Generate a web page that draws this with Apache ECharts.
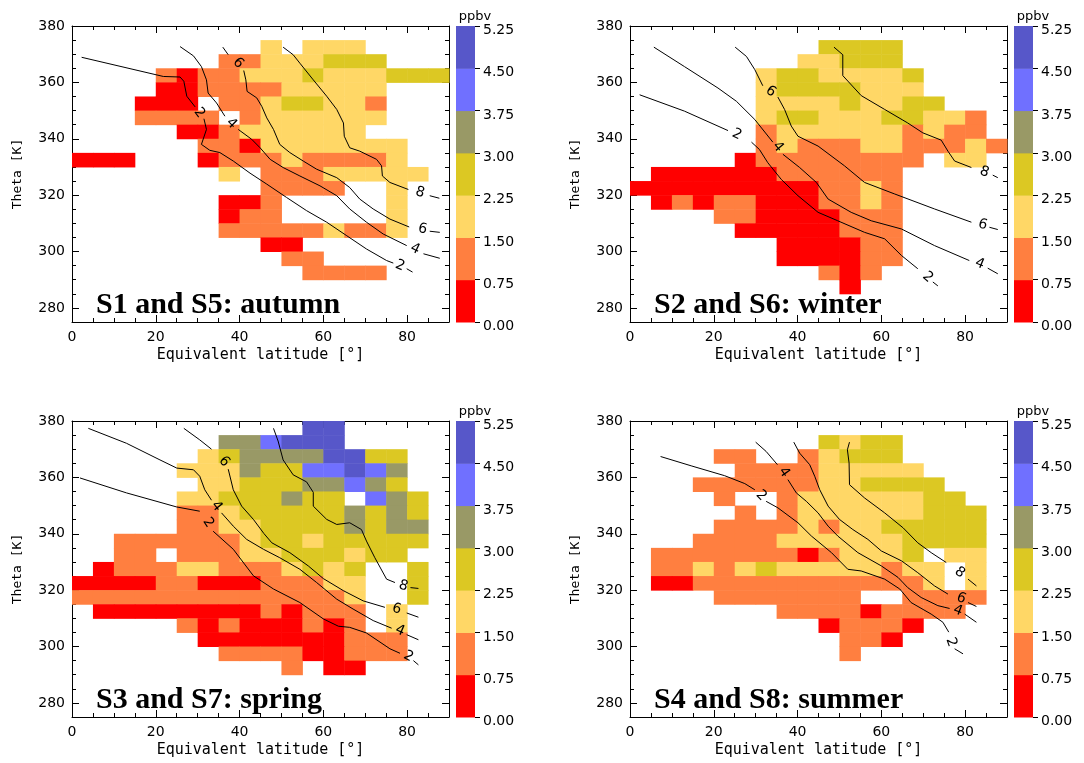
<!DOCTYPE html>
<html>
<head>
<meta charset="utf-8">
<title>Ozone vs equivalent latitude and theta</title>
<script src="https://cdn.jsdelivr.net/npm/echarts@6/dist/echarts.min.js"></script>
<style>
  html, body { margin: 0; padding: 0; background: #fff; }
  #chart { width: 1084px; height: 763px; }
</style>
</head>
<body>
<div id="chart"></div>
<script>
// bins are 5 deg x 5 K, given by their lower-left corner
const latBins = [0, 5, 10, 15, 20, 25, 30, 35, 40, 45, 50, 55, 60, 65, 70, 75, 80, 85];
const thetaBins = [375, 370, 365, 360, 355, 350, 345, 340, 335, 330, 325, 320, 315, 310, 305, 300, 295, 290, 285, 280, 275];
const binSize = 5;

const latTicks = [0, 5, 10, 15, 20, 25, 30, 35, 40, 45, 50, 55, 60, 65, 70, 75, 80, 85, 90];
const latLabels = [0, 20, 40, 60, 80];
const thetaTicks = [275, 280, 285, 290, 295, 300, 305, 310, 315, 320, 325, 330, 335, 340, 345, 350, 355, 360, 365, 370, 375, 380];
const thetaLabels = [280, 300, 320, 340, 360, 380];

const ppbvEdges = [0, 0.75, 1.5, 2.25, 3.0, 3.75, 4.5, 5.25];
const ppbvColors = ['#ff0000', '#ff7f40', '#ffd766', '#dcc823', '#999966', '#7070ff', '#5757c9'];

// ppbv class (index into ppbvEdges) per cell, '.' = empty; rows from 375 K down to 275 K
const autumnCells = [
  '..................',
  '.........2.222....',
  '.......11222333...',
  '....10112223222333',
  '....00111122222...',
  '...000.11233221...',
  '...1111.1222222...',
  '.....001222222....',
  '......1102222222..',
  '000...0111211112..',
  '.......2.11122222.',
  '.........1111..2..',
  '.......001.....2..',
  '.......011.....2..',
  '.......111112112..',
  '.........00.......',
  '..........11......',
  '...........1111...',
  '..................',
  '..................',
  '..................'
];
const winterCells = [
  '..................',
  '.........3333.....',
  '........22333.....',
  '......23322223....',
  '......23333222....',
  '......222232233...',
  '......23322233221.',
  '......12222221211.',
  '......121112211121',
  '.....011111111.22.',
  '.000000111111.....',
  '0000000001121.....',
  '.010110001121.....',
  '....110000111.....',
  '.....00000111.....',
  '.......000011.....',
  '.......000011.....',
  '.........101......',
  '..........0.......',
  '..................',
  '..................'
];
const springCells = [
  '...........66.....',
  '.......445666.....',
  '......2344446633..',
  '.....22243355654..',
  '......2233344543..',
  '.....22333433.543.',
  '.....112333334343.',
  '.....112233334344.',
  '..111111233233333.',
  '..11.11122333233..',
  '.0111221112323..3.',
  '00001100011122..3.',
  '11111111111112..3.',
  '.0000000010111.2..',
  '.....101000101.2..',
  '......0000000111..',
  '.......111100111..',
  '..........1.00....',
  '..................',
  '..................',
  '..................'
];
const summerCells = [
  '..................',
  '.........3233.....',
  '....11..12333.....',
  '.....111122222....',
  '...111111223333...',
  '....1..122222233..',
  '.....1.1222222333.',
  '....1111212233333.',
  '...11112222223333.',
  '.1111111012223.22.',
  '.11212322222122.2.',
  '.00111111111112.2.',
  '....1111111..1111.',
  '.......111101111..',
  '.........01110....',
  '..........110.....',
  '..........1.......',
  '..................',
  '..................',
  '..................',
  '..................'
];

// contour lines [lat, theta]; "at" = indices where a label sits in a gap of the line
const autumnContours = [
  { level: 2, at: [6, 22], pts: [[2.3,368.9],[21.8,362.1],[25.8,361.9],[26.7,360.4],[27.4,355.1],[29.4,351.3],[30.4,349.2],[31.5,347.1],[32.1,343.3],[30.9,338.0],[32.9,335.9],[35.3,335.1],[38.5,332.1],[42.5,327.8],[46.5,323.9],[51.2,319.2],[56.0,314.5],[60.8,310.4],[65.6,305.6],[70.3,300.9],[75.1,296.8],[76.7,295.9],[78.3,295.0],[79.9,293.9],[81.3,292.7]] },
  { level: 4, at: [7, 20], pts: [[25.8,372.7],[29.0,369.4],[30.9,365.6],[32.1,360.9],[32.5,356.2],[34.5,352.7],[36.5,348.0],[38.1,345.4],[39.7,343.3],[42.9,339.8],[44.9,336.8],[47.3,332.7],[50.4,329.8],[54.4,326.8],[59.2,323.3],[63.2,319.8],[66.3,315.1],[70.3,310.4],[74.3,306.2],[79.9,302.1],[81.9,300.9],[83.9,299.2],[87.8,297.6]] },
  { level: 6, at: [2, 20], pts: [[36.0,372.5],[37.3,369.8],[39.7,366.8],[41.0,364.2],[41.5,360.9],[41.8,356.8],[44.1,354.5],[45.3,351.5],[46.5,347.4],[48.1,343.3],[49.6,338.0],[52.0,335.1],[55.2,332.1],[58.4,329.2],[63.2,326.2],[66.3,322.7],[68.7,318.6],[71.9,315.1],[75.9,311.5],[80.5,308.7],[83.7,308.0],[85.4,307.2],[87.8,306.8]] },
  { level: 8, at: [15], pts: [[50.4,372.5],[52.8,369.8],[54.4,366.8],[57.6,360.9],[60.8,355.1],[63.2,350.4],[64.8,345.6],[65.0,340.9],[66.3,336.8],[68.7,335.6],[72.7,332.7],[73.9,330.4],[74.1,326.8],[75.9,324.5],[80.3,322.0],[83.1,320.9],[85.4,319.8],[87.7,318.9]] }
];
const winterContours = [
  { level: 2, at: [3, 15], pts: [[2.3,355.6],[13.0,349.8],[23.4,342.9],[25.5,341.5],[29.0,338.8],[30.9,336.2],[32.9,331.5],[36.1,325.6],[40.1,319.8],[44.9,313.9],[49.6,310.9],[56.0,306.8],[60.8,304.5],[64.8,298.6],[68.7,293.9],[71.1,290.9],[72.3,289.2],[73.5,287.8]] },
  { level: 4, at: [6, 16], pts: [[5.7,372.5],[13.0,365.6],[21.0,358.0],[25.4,353.3],[29.8,346.8],[34.1,338.8],[35.3,337.1],[36.5,334.5],[40.5,329.8],[44.5,324.5],[47.3,318.6],[52.8,313.9],[57.6,310.9],[64.8,308.0],[72.7,302.1],[81.0,296.8],[83.5,295.6],[85.4,294.1],[87.8,292.1]] },
  { level: 6, at: [4, 15], pts: [[25.1,372.5],[27.8,369.2],[29.8,364.5],[31.7,358.8],[33.6,356.8],[35.3,354.8],[36.9,350.4],[38.5,344.5],[40.1,340.9],[44.9,337.4],[51.2,330.4],[56.0,324.5],[63.2,320.4],[72.7,315.1],[81.5,310.4],[84.2,309.5],[85.8,308.6],[87.8,307.8]] },
  { level: 8, at: [11], pts: [[48.7,372.5],[50.8,369.8],[50.8,362.4],[55.2,355.3],[60.8,350.4],[66.3,345.6],[69.9,342.1],[74.3,339.5],[75.9,335.6],[77.5,332.1],[81.5,329.8],[84.6,328.2],[86.6,327.1],[87.8,326.2]] }
];
const springContours = [
  { level: 2, at: [4, 16], pts: [[1.9,359.8],[13.0,354.5],[25.0,349.5],[30.5,348.0],[32.5,343.9],[33.7,340.9],[38.5,334.5],[43.3,325.1],[48.1,320.4],[54.4,315.6],[60.0,309.8],[63.6,307.2],[66.3,306.8],[70.3,304.8],[75.9,299.2],[78.3,297.6],[80.3,296.5],[81.5,295.0],[82.7,293.5]] },
  { level: 4, at: [8, 20], pts: [[3.9,377.4],[13.0,372.1],[21.0,366.2],[25.0,363.3],[29.0,362.7],[30.5,360.4],[31.7,355.6],[33.3,351.9],[34.5,349.8],[35.7,347.4],[38.5,342.7],[41.7,338.0],[45.7,334.5],[49.6,331.5],[54.4,327.4],[58.4,322.7],[63.2,316.8],[67.1,313.3],[71.9,309.2],[76.3,306.5],[78.3,305.6],[79.9,304.2],[82.7,302.4]] },
  { level: 6, at: [3, 16], pts: [[26.7,377.4],[30.5,373.3],[33.3,370.0],[36.3,365.6],[37.3,362.9],[38.5,355.6],[40.5,349.8],[43.3,345.1],[45.8,340.1],[47.7,336.8],[52.0,333.3],[56.4,328.6],[60.0,324.1],[64.8,319.8],[69.5,316.2],[74.7,313.9],[77.5,313.3],[79.9,311.9],[82.7,310.4]] },
  { level: 8, at: [15], pts: [[48.1,377.4],[49.2,372.9],[50.4,366.2],[52.8,360.9],[56.0,358.4],[57.6,354.7],[57.6,349.8],[60.8,345.1],[63.2,343.3],[66.3,343.9],[69.1,341.5],[70.3,337.4],[72.3,331.5],[75.1,323.9],[77.1,322.7],[79.1,321.5],[80.8,320.9],[82.7,320.6]] }
];
const summerContours = [
  { level: 2, at: [5, 19], pts: [[7.3,367.4],[14.6,364.1],[22.6,360.6],[27.4,357.8],[29.8,355.6],[31.3,353.5],[32.5,351.5],[35.3,349.2],[40.1,343.9],[43.3,339.2],[48.1,333.3],[52.0,327.4],[55.2,326.8],[60.8,323.9],[64.4,320.4],[67.1,315.6],[71.9,311.5],[74.7,308.6],[76.1,305.1],[76.7,301.5],[77.5,299.2],[79.5,297.4]] },
  { level: 4, at: [3, 17], pts: [[30.0,372.5],[32.5,369.2],[35.2,364.5],[36.8,361.8],[37.7,359.2],[39.7,354.5],[42.1,351.5],[44.9,347.4],[47.3,342.7],[49.6,339.2],[54.4,333.3],[60.0,328.6],[64.0,324.5],[66.3,320.9],[69.5,317.4],[73.5,314.5],[76.3,313.5],[78.3,312.7],[79.9,311.5],[82.7,308.6]] },
  { level: 6, at: [14], pts: [[39.1,372.5],[40.5,368.6],[42.9,364.5],[44.1,360.4],[45.3,355.6],[47.3,349.8],[50.0,345.1],[53.2,341.5],[56.8,338.0],[60.0,333.9],[64.8,330.4],[68.7,326.2],[72.7,321.5],[75.9,318.6],[79.1,317.1],[80.7,315.6],[82.7,314.2]] },
  { level: 8, at: [10], pts: [[52.4,372.5],[51.9,369.8],[52.3,365.1],[52.4,357.4],[56.0,352.7],[60.8,347.4],[65.2,342.1],[68.7,336.8],[71.9,333.3],[75.5,329.8],[78.7,326.2],[80.7,323.9],[82.7,321.5]] }
];

const panels = [
  { title: 'S1 and S5: autumn', cells: autumnCells, contours: autumnContours },
  { title: 'S2 and S6: winter', cells: winterCells, contours: winterContours },
  { title: 'S3 and S7: spring', cells: springCells, contours: springContours },
  { title: 'S4 and S8: summer', cells: summerCells, contours: summerContours }
];

const gridPos = [[72, 26], [630, 26], [72, 421], [630, 421]];
const plotW = 377, plotH = 296;
const font = '"DejaVu Sans", sans-serif';
const nameFont = '"DejaVu Sans Mono", monospace';

function cellData(rows) {
  const out = [];
  rows.forEach((row, r) => {
    row.split('').forEach((ch, c) => {
      if (ch === '.') return;
      const k = +ch;
      out.push([latBins[c], thetaBins[r], (ppbvEdges[k] + ppbvEdges[k + 1]) / 2]);
    });
  });
  return out;
}

function contourSegments(contours) {
  const segs = [];
  contours.forEach(c => {
    let cur = [];
    c.pts.forEach((p, j) => {
      if (c.at.indexOf(j) >= 0) {
        if (cur.length > 1) segs.push({ coords: cur });
        cur = [];
      } else {
        cur.push(p);
      }
    });
    if (cur.length > 1) segs.push({ coords: cur });
  });
  return segs;
}

function contourLabels(contours) {
  const out = [];
  contours.forEach(c => c.at.forEach(j => {
    const a = c.pts[j - 1], b = c.pts[j + 1];
    out.push([c.pts[j][0], c.pts[j][1], c.level, a[0], a[1], b[0], b[1]]);
  }));
  return out;
}

function tickAxis(extra, ticks, len) {
  return Object.assign({
    type: 'value',
    splitLine: { show: false },
    axisLine: { show: false, onZero: false, lineStyle: { color: '#000', width: 1 } },
    axisTick: { show: true, inside: true, length: len, customValues: ticks, lineStyle: { color: '#000', width: 1 } },
    axisLabel: { show: false }
  }, extra);
}

const grids = [], xAxes = [], yAxes = [], series = [], titles = [];
const mappedSeries = [];

panels.forEach((p, i) => {
  const [gx, gy] = gridPos[i];
  grids.push({ left: gx, top: gy, width: plotW, height: plotH, outerBoundsMode: 'none' });

  const xr = { gridIndex: i, min: 0, max: 90 };
  const yr = { gridIndex: i, min: 275, max: 380 };
  const labelStyle = { color: '#000', fontSize: 14, fontFamily: font };

  const xMain = tickAxis(Object.assign({ position: 'bottom',
    name: 'Equivalent latitude [°]', nameLocation: 'middle', nameGap: 26,
    nameTextStyle: { color: '#000', fontSize: 15, fontFamily: nameFont } }, xr), latLabels, 7);
  xMain.axisLine.show = true;
  xMain.axisLabel = Object.assign({ show: true, customValues: latLabels, margin: 8 }, labelStyle);
  xAxes.push(xMain);
  xAxes.push(tickAxis(Object.assign({ position: 'bottom' }, xr), latTicks, 4));
  const xTop = tickAxis(Object.assign({ position: 'top' }, xr), latLabels, 7);
  xTop.axisLine.show = true;
  xAxes.push(xTop);
  xAxes.push(tickAxis(Object.assign({ position: 'top' }, xr), latTicks, 4));

  const yMain = tickAxis(Object.assign({ position: 'left',
    name: 'Theta [K]', nameLocation: 'middle', nameGap: 48,
    nameTextStyle: { color: '#000', fontSize: 13, fontFamily: nameFont } }, yr), thetaLabels, 7);
  yMain.axisLine.show = true;
  yMain.axisLabel = Object.assign({ show: true, customValues: thetaLabels, margin: 7 }, labelStyle);
  yAxes.push(yMain);
  yAxes.push(tickAxis(Object.assign({ position: 'left' }, yr), thetaTicks, 4));
  const yRight = tickAxis(Object.assign({ position: 'right' }, yr), thetaLabels, 7);
  yRight.axisLine.show = true;
  yAxes.push(yRight);
  yAxes.push(tickAxis(Object.assign({ position: 'right' }, yr), thetaTicks, 4));

  mappedSeries.push(series.length);
  series.push({
    type: 'custom',
    xAxisIndex: 4 * i, yAxisIndex: 4 * i,
    dimensions: ['lat', 'theta', 'ppbv'],
    encode: { x: 0, y: 1 },
    silent: true,
    z: 1,
    data: cellData(p.cells),
    renderItem: (params, api) => {
      const p0 = api.coord([api.value(0), api.value(1)]);
      const p1 = api.coord([api.value(0) + binSize, api.value(1) + binSize]);
      return {
        type: 'rect',
        shape: { x: p0[0], y: p1[1], width: p1[0] - p0[0] + 0.5, height: p0[1] - p1[1] + 0.5 },
        style: { fill: api.visual('color') }
      };
    }
  });

  series.push({
    type: 'lines',
    coordinateSystem: 'cartesian2d',
    xAxisIndex: 4 * i, yAxisIndex: 4 * i,
    polyline: true,
    silent: true,
    z: 3,
    lineStyle: { color: '#000', width: 1, opacity: 1 },
    data: contourSegments(p.contours)
  });

  series.push({
    type: 'custom',
    xAxisIndex: 4 * i, yAxisIndex: 4 * i,
    encode: { x: 0, y: 1 },
    silent: true,
    z: 4,
    data: contourLabels(p.contours),
    renderItem: (params, api) => {
      const c = api.coord([api.value(0), api.value(1)]);
      const a = api.coord([api.value(3), api.value(4)]);
      const b = api.coord([api.value(5), api.value(6)]);
      let ang = Math.atan2(-(b[1] - a[1]), b[0] - a[0]);
      if (ang > Math.PI / 2) ang -= Math.PI;
      if (ang < -Math.PI / 2) ang += Math.PI;
      return {
        type: 'text', x: c[0], y: c[1], rotation: ang,
        style: { text: String(api.value(2)), fill: '#000', font: '14px ' + font, align: 'center', verticalAlign: 'middle' }
      };
    }
  });

  titles.push({
    text: p.title, left: gx + 24, top: gy + 264, padding: 0,
    textStyle: { fontFamily: '"Liberation Serif", serif', fontWeight: 'bold', fontSize: 30, color: '#000' }
  });
});

// colour bars
panels.forEach((p, i) => {
  const [gx, gy] = gridPos[i];
  const gi = 4 + i;
  grids.push({ left: gx + 384, top: gy, width: 19, height: plotH, outerBoundsMode: 'none' });
  xAxes.push({ type: 'value', gridIndex: gi, min: 0, max: 1, show: false });
  yAxes.push({
    type: 'value', gridIndex: gi, min: 0, max: 5.25, position: 'right',
    splitLine: { show: false },
    axisLine: { show: false, onZero: false },
    axisTick: { show: true, inside: false, length: 5, customValues: ppbvEdges, lineStyle: { color: '#000' } },
    axisLabel: { show: true, customValues: ppbvEdges, margin: 8,
      formatter: v => '{v|' + v.toFixed(2) + '}',
      rich: { v: { color: '#000', fontSize: 14, fontFamily: font, padding: [9, 0, 0, 0] } } },
    name: 'ppbv', nameLocation: 'end', nameGap: 1,
    nameTextStyle: { color: '#000', fontSize: 13, fontFamily: font, align: 'center' }
  });
  mappedSeries.push(series.length);
  series.push({
    type: 'custom',
    xAxisIndex: 16 + i, yAxisIndex: 16 + i,
    dimensions: ['lo', 'hi', 'ppbv'],
    encode: { y: [0, 1] },
    silent: true,
    data: ppbvEdges.slice(0, -1).map((lo, k) => [lo, ppbvEdges[k + 1], (lo + ppbvEdges[k + 1]) / 2]),
    renderItem: (params, api) => {
      const p0 = api.coord([0, api.value(0)]);
      const p1 = api.coord([1, api.value(1)]);
      return {
        type: 'rect',
        shape: { x: p0[0], y: p1[1], width: p1[0] - p0[0], height: p0[1] - p1[1] + 0.5 },
        style: { fill: api.visual('color') }
      };
    }
  });
});

const chart = echarts.init(document.getElementById('chart'));
chart.setOption({
  animation: false,
  backgroundColor: '#fff',
  title: titles,
  grid: grids,
  xAxis: xAxes,
  yAxis: yAxes,
  visualMap: {
    type: 'piecewise',
    show: false,
    dimension: 2,
    seriesIndex: mappedSeries,
    pieces: ppbvColors.map((col, k) => ({ gte: ppbvEdges[k], lt: ppbvEdges[k + 1], color: col }))
  },
  series: series
});
</script>
</body>
</html>
